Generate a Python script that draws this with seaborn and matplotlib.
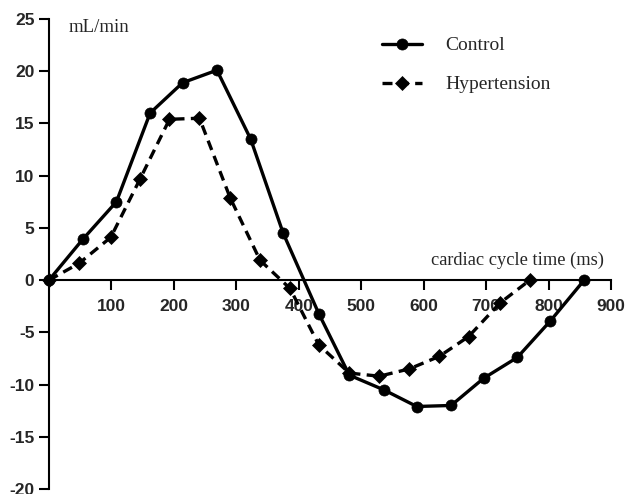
import numpy as np, pandas as pd, matplotlib
matplotlib.use('Agg')
import matplotlib.pyplot as plt
import seaborn as sns

# ── data ─────────────────────────────────────────────────────────
control_time = [0, 54, 108, 162, 214, 269, 323, 375, 432, 481, 536, 589, 644, 696, 750, 803, 857]
control_flow = [0, 3.9, 7.5, 16.0, 18.9, 20.1, 13.5, 4.5, -3.2, -9.1, -10.5, -12.1, -12.0, -9.4, -7.4, -3.9, 0]
hyper_time = [0, 48, 99, 146, 193, 241, 290, 338, 386, 432, 481, 529, 577, 625, 672, 722, 770]
hyper_flow = [0, 1.6, 4.1, 9.7, 15.4, 15.5, 7.9, 1.9, -0.8, -6.2, -8.9, -9.2, -8.5, -7.3, -5.4, -2.2, 0]
x_ticks = [100, 200, 300, 400, 500, 600, 700, 800, 900]
y_ticks = [-20, -15, -10, -5, 0, 5, 10, 15, 20, 25]
groups = ['Control', 'Hypertension']

df = pd.concat([
    pd.DataFrame({'time': control_time, 'flow': control_flow, 'group': groups[0]}),
    pd.DataFrame({'time': hyper_time, 'flow': hyper_flow, 'group': groups[1]}),
])

sns.set_style('white')
plt.rcParams['font.family'] = ['Liberation Sans', 'DejaVu Sans']
plt.rcParams['axes.unicode_minus'] = False
SERIF = ['Liberation Serif', 'DejaVu Serif']

fig = plt.figure(figsize=(6.27, 4.94), dpi=100)
ax = fig.add_axes([0.0781, 0.0101, 0.8964, 0.9514])

sns.lineplot(data=df, x='time', y='flow', style='group', estimator=None, sort=False,
             markers={'Control': 'o', 'Hypertension': 'D'},
             dashes={'Control': '', 'Hypertension': (3.0, 1.9)},
             color='black', linewidth=2.4, markersize=8,
             markeredgecolor='black', markeredgewidth=0.5,
             legend=False, ax=ax, clip_on=False)
for ln in ax.lines:
    ln.set_clip_on(False)
ax.lines[1].set_markersize(7.5)

ax.set_xlim(0, 900); ax.set_ylim(-20, 25)
ax.set_xticks(x_ticks); ax.set_yticks(y_ticks)
ax.set_xlabel(''); ax.set_ylabel('')
for s in ['top', 'right']:
    ax.spines[s].set_visible(False)
ax.spines['bottom'].set_position(('data', 0))
for s in ['left', 'bottom']:
    ax.spines[s].set_linewidth(1.5); ax.spines[s].set_color('black')
ax.tick_params(axis='both', direction='out', length=7.5, width=1.5, color='black',
               labelsize=12.5, pad=3, bottom=True, left=True)
ax.tick_params(axis='x', pad=6)
for t in ax.get_xticklabels() + ax.get_yticklabels():
    t.set_fontweight('bold')

ax.text(32, 24.2, 'mL/min', fontsize=13.5, family=SERIF, ha='left', va='center')
ax.text(889, 1.1, 'cardiac cycle time (ms)', fontsize=13.2,
        family=SERIF, ha='right', va='bottom')

handles = [ax.lines[0], ax.lines[1]]
leg = ax.legend(handles, groups, loc='upper left', bbox_to_anchor=(0.5925, 0.962),
                frameon=False, handlelength=2.06, handletextpad=1.2, labelspacing=1.1,
                borderpad=0, borderaxespad=0,
                prop={'family': SERIF, 'size': 14})

plt.savefig('out.png', dpi=100)
